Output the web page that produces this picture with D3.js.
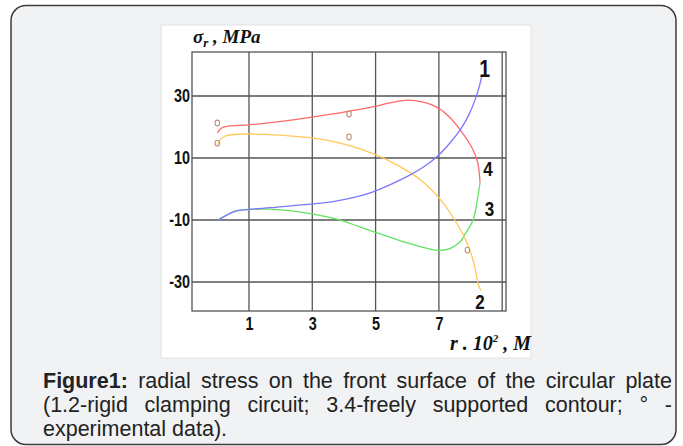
<!DOCTYPE html>
<html><head><meta charset="utf-8">
<script src="https://cdn.jsdelivr.net/npm/d3@7/dist/d3.min.js"></script>
<style>
html,body{margin:0;padding:0;background:#fff;}
svg{display:block;}
</style></head>
<body>
<svg id="chart" width="683" height="446"></svg>
<script>
// ---- data ----
const xTicks = [1, 3, 5, 7];
const yTicks = [30, 10, -10, -30];
const xGrid = [1, 3, 5, 7, 9];

const curve1X = [0, 0.55, 1, 1.67, 3.03, 3.79, 4.51, 4.92, 5.99, 6.5, 7, 7.4, 7.7, 7.95, 8.15, 8.3, 8.36];
const curve1Y = [-10.2, -7.2, -6.6, -6, -4.8, -3.8, -2.2, -0.9, 4, 7, 11, 15.5, 19.5, 24, 29, 34, 36.8];

const curve2X = [0, 0.1, 0.25, 0.72, 1.5, 2.2, 3, 3.88, 4.6, 5.3, 6.1, 6.5, 7.0, 7.5, 7.89, 8.08, 8.27, 8.33];
const curve2Y = [14.2, 16, 17.1, 17.7, 17.6, 17.2, 16.5, 14.8, 12.6, 9.7, 5.2, 2.3, -2.8, -10, -17.4, -22.9, -31.6, -32.6];

const curve3X = [0, 0.55, 1, 1.67, 2.4, 3.03, 3.8, 4.5, 4.95, 6.0, 6.6, 6.95, 7.35, 7.67, 7.8, 8.08, 8.23, 8.3];
const curve3Y = [-10.2, -7.2, -6.6, -6.5, -7.1, -8.1, -9.8, -12.2, -13.8, -17.4, -19.1, -19.8, -19.2, -17, -15, -10, -2.5, 2];

const curve4X = [0, 0.12, 0.35, 1, 2, 3, 4, 4.9, 5.55, 6.0, 6.5, 7.0, 7.4, 7.75, 8.08, 8.23, 8.3];
const curve4Y = [18.1, 19.6, 20.3, 20.7, 21.8, 23.2, 24.8, 26.5, 28, 28.7, 28, 26, 22.5, 18, 12.6, 8.4, 2];

const expX = [0, 0, 4.16, 4.16, 7.9];
const expY = [21.3, 14.8, 24.2, 16.8, -19.7];

const seriesNames = ["1", "2", "3", "4"];
const seriesColors = ["#7a78ff", "#ffc85a", "#62e262", "#ff6a6a"];
const labelPos = [[8.45, 38.7], [8.3, -36.6], [8.6, -6.5], [8.55, 6.3]];

const captionLines = [
  ["Figure1:", "radial", "stress", "on", "the", "front", "surface", "of", "the", "circular", "plate"],
  ["(1.2-rigid", "clamping", "circuit;", "3.4-freely", "supported", "contour;", "°", "-"],
  ["experimental data)."]
];

// ---- drawing ----
const svg = d3.select("#chart");

// card
svg.append("rect").attr("x", 0).attr("y", 0).attr("width", 683).attr("height", 446).attr("fill", "#ffffff");
svg.append("rect").attr("x", 11).attr("y", 5.5).attr("width", 665).attr("height", 439)
  .attr("rx", 15).attr("ry", 15).attr("fill", "#f1f2f4").attr("stroke", "#3c3c3c").attr("stroke-width", 1.5);

// image area
svg.append("rect").attr("x", 161).attr("y", 25).attr("width", 370).attr("height", 333)
  .attr("fill", "#ffffff").attr("stroke", "#e2e2e2").attr("stroke-width", 1);

const x = d3.scaleLinear().domain([-0.8, 9.12]).range([192, 506]);
const y = d3.scaleLinear().domain([-39.35, 44.2]).range([311, 52]);

const gridColor = "#555555";
const g = svg.append("g");

// grid
g.selectAll(".vg").data(xGrid).enter().append("line")
  .attr("x1", d => x(d)).attr("x2", d => x(d)).attr("y1", y.range()[1]).attr("y2", y.range()[0])
  .attr("stroke", gridColor).attr("stroke-width", 1.3);
g.selectAll(".hg").data(yTicks).enter().append("line")
  .attr("x1", x.range()[0]).attr("x2", x.range()[1]).attr("y1", d => y(d)).attr("y2", d => y(d))
  .attr("stroke", gridColor).attr("stroke-width", 1.3);
g.append("rect").attr("x", x.range()[0]).attr("y", y.range()[1])
  .attr("width", x.range()[1] - x.range()[0]).attr("height", y.range()[0] - y.range()[1])
  .attr("fill", "none").attr("stroke", gridColor).attr("stroke-width", 1.3);

// condensed look: shrink glyphs horizontally using textLength
function condense(sel, f) {
  sel.each(function () {
    const w = this.getComputedTextLength();
    d3.select(this).attr("textLength", w * f).attr("lengthAdjust", "spacingAndGlyphs");
  });
}

// axes tick labels via d3 axes
const tickFont = "'Liberation Sans', Arial, sans-serif";
const yAxis = d3.axisLeft(y).tickValues(yTicks).tickSize(0).tickPadding(2).tickFormat(d => String(d));
const ya = svg.append("g").attr("transform", `translate(${x.range()[0]},0)`).call(yAxis);
ya.select(".domain").remove();
ya.selectAll("text").attr("font-family", tickFont).attr("font-weight", "bold").attr("font-size", 18)
  .attr("fill", "#111").call(condense, 0.8);

const xAxis = d3.axisBottom(x).tickValues(xTicks).tickSize(0).tickPadding(6).tickFormat(d3.format("d"));
const xa = svg.append("g").attr("transform", `translate(0,${y.range()[0]})`).call(xAxis);
xa.select(".domain").remove();
xa.selectAll("text").attr("font-family", tickFont).attr("font-weight", "bold").attr("font-size", 18)
  .attr("fill", "#111").call(condense, 0.8);

// curves
const lineCR = d3.line().x(d => x(d[0])).y(d => y(d[1])).curve(d3.curveCatmullRom.alpha(0.5));
const seriesData = [
  d3.zip(curve1X, curve1Y),
  d3.zip(curve2X, curve2Y),
  d3.zip(curve3X, curve3Y),
  d3.zip(curve4X, curve4Y)
];
const order = [2, 3, 1, 0];
order.forEach(i => {
  svg.append("path").datum(seriesData[i]).attr("d", lineCR)
    .attr("fill", "none").attr("stroke", seriesColors[i]).attr("stroke-width", 1.3);
});

// experimental points
svg.selectAll(".exp").data(d3.zip(expX, expY)).enter().append("ellipse")
  .attr("cx", d => x(d[0])).attr("cy", d => y(d[1])).attr("rx", 2.3).attr("ry", 2.9)
  .attr("fill", "none").attr("stroke", "#c4907e").attr("stroke-width", 1.1);

// series labels
svg.selectAll(".lab").data(seriesNames).enter().append("text")
  .attr("x", (d, i) => x(labelPos[i][0])).attr("y", (d, i) => y(labelPos[i][1]))
  .attr("text-anchor", "middle").attr("dominant-baseline", "central")
  .attr("font-family", tickFont).attr("font-weight", "bold")
  .attr("font-size", (d, i) => i === 0 ? 23 : 20).attr("fill", "#111").text(d => d)
  .call(condense, 0.85);

// axis titles
const serif = "'Liberation Serif', 'Times New Roman', serif";
const t1 = svg.append("text").attr("x", 193).attr("y", 43).attr("font-family", serif)
  .attr("font-weight", "bold").attr("font-style", "italic").attr("font-size", 19).attr("fill", "#111");
t1.append("tspan").text("σ");
t1.append("tspan").attr("dy", 4).attr("font-size", 13).text("r");
t1.append("tspan").attr("dy", -4).text(" ,  MPa");

const t2 = svg.append("text").attr("x", 450).attr("y", 350).attr("font-family", serif)
  .attr("font-weight", "bold").attr("font-style", "italic").attr("font-size", 20).attr("fill", "#111");
t2.append("tspan").text("r . 10");
t2.append("tspan").attr("dy", -8).attr("font-size", 11).text("2");
t2.append("tspan").attr("dy", 8).text(" , M");

// caption, justified
const capFont = "'Liberation Sans', Arial, sans-serif";
const capLeft = 43, capRight = 672;
const capY = [388, 412, 436];
captionLines.forEach((words, li) => {
  const items = words.map((w, wi) => {
    const t = svg.append("text").attr("y", capY[li]).attr("font-family", capFont)
      .attr("font-size", 21.5).attr("fill", "#222")
      .attr("font-weight", (li === 0 && wi === 0) ? "bold" : "normal").text(w);
    return {t, w: t.node().getComputedTextLength()};
  });
  if (li < captionLines.length - 1) {
    const total = d3.sum(items, d => d.w);
    const gap = (capRight - capLeft - total) / (items.length - 1);
    let cx = capLeft;
    items.forEach(it => { it.t.attr("x", cx); cx += it.w + gap; });
  } else {
    items.forEach(it => it.t.attr("x", capLeft));
  }
});
</script>
</body></html>
